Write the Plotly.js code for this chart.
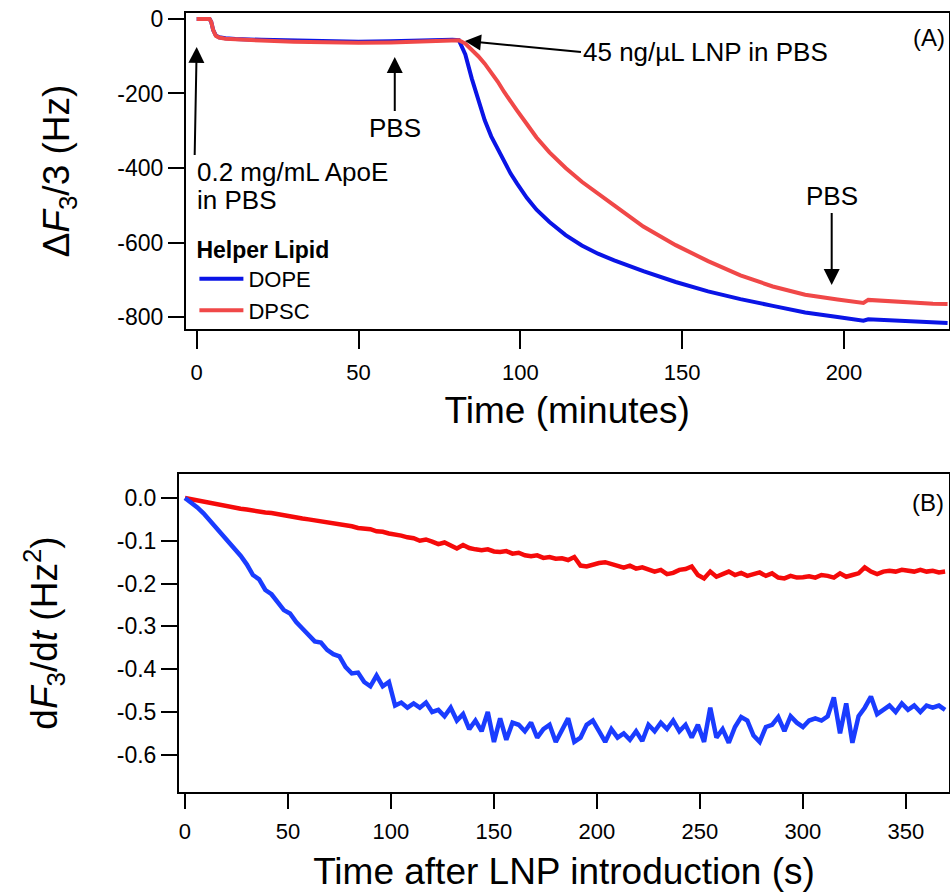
<!DOCTYPE html>
<html>
<head>
<meta charset="utf-8">
<script src="https://cdn.plot.ly/plotly-3.0.1.min.js"></script>
<style>html,body{margin:0;padding:0;background:#fff;}#chart{width:950px;height:892px;}</style>
</head>
<body>
<div id="chart"></div>
<script>
// ---- Panel A: frequency shift vs time (minutes) ----
const topTime = [0, 4, 4.5, 5.1, 5.9, 6.9, 8.9, 12, 20, 30, 40, 50, 60, 70, 79, 81, 83, 85, 87, 89, 91, 93, 95, 97, 99, 102, 105, 109, 114, 119, 124, 129, 138, 148, 158, 168, 178, 188, 198, 203, 206, 207.5, 212.5, 217.5, 222.5, 227.5, 232];
const topDOPE = [0, 0, -8, -30, -44, -49, -52, -54, -56, -58, -60, -61, -60, -57, -56, -57, -95, -160, -220, -272, -315, -350, -385, -415, -442, -480, -512, -545, -580, -608, -630, -648, -677, -706, -731, -752, -770, -788, -800, -806, -810, -806, -808, -810, -812, -814, -816];
const topDPSC = [0, 0, -8, -30, -45, -50, -53, -55, -58, -61, -63, -64, -63, -59, -57, -57, -66, -82, -100, -120, -142, -168, -196, -222, -246, -282, -318, -358, -400, -437, -470, -500, -557, -607, -650, -688, -718, -740, -753, -758, -762, -754, -757, -759, -762, -764, -765];

// ---- Panel B: dF3/dt vs time after LNP introduction (s) ----
const botTime = [0, 3, 6, 9, 12, 15, 18, 21, 24, 27, 30, 33, 36, 39, 42, 45, 48, 51, 54, 57, 60, 63, 66, 69, 72, 75, 78, 81, 84, 87, 90, 93, 96, 99, 102, 105, 108, 111, 114, 117, 120, 123, 126, 129, 132, 135, 138, 141, 144, 147, 150, 153, 156, 159, 162, 165, 168, 171, 174, 177, 180, 183, 186, 189, 192, 195, 198, 201, 204, 207, 210, 213, 216, 219, 222, 225, 228, 231, 234, 237, 240, 243, 246, 249, 252, 255, 258, 261, 264, 267, 270, 273, 276, 279, 282, 285, 288, 291, 294, 297, 300, 303, 306, 309, 312, 315, 318, 321, 324, 327, 330, 333, 336, 339, 342, 345, 348, 351, 354, 357, 360, 363, 366, 369];
const botDOPE = [0, -0.010, -0.022, -0.036, -0.052, -0.068, -0.086, -0.100, -0.118, -0.135,
  -0.155, -0.180, -0.190, -0.215, -0.225, -0.245, -0.262, -0.270, -0.290, -0.305,
  -0.320, -0.335, -0.338, -0.355, -0.365, -0.370, -0.395, -0.410, -0.408, -0.430,
  -0.440, -0.415, -0.440, -0.430, -0.485, -0.478, -0.490, -0.480, -0.490, -0.478,
  -0.500, -0.495, -0.510, -0.490, -0.520, -0.505, -0.540, -0.520, -0.545, -0.500,
  -0.570, -0.515, -0.565, -0.525, -0.530, -0.545, -0.525, -0.560, -0.540, -0.530,
  -0.570, -0.540, -0.515, -0.570, -0.560, -0.530, -0.520, -0.545, -0.570, -0.540,
  -0.560, -0.550, -0.565, -0.545, -0.568, -0.530, -0.545, -0.525, -0.540, -0.520,
  -0.545, -0.530, -0.560, -0.530, -0.570, -0.490, -0.560, -0.540, -0.572, -0.535,
  -0.512, -0.520, -0.555, -0.570, -0.535, -0.530, -0.512, -0.545, -0.510, -0.525,
  -0.535, -0.520, -0.515, -0.520, -0.510, -0.466, -0.550, -0.480, -0.572, -0.510,
  -0.490, -0.464, -0.505, -0.495, -0.485, -0.500, -0.480, -0.495, -0.485, -0.500,
  -0.485, -0.490, -0.485, -0.495];
const botDPSC = [0, -0.003, -0.006, -0.009, -0.012, -0.014, -0.017, -0.019, -0.022, -0.025,
  -0.027, -0.030, -0.032, -0.034, -0.035, -0.038, -0.040, -0.044, -0.045, -0.048,
  -0.050, -0.052, -0.055, -0.056, -0.060, -0.061, -0.064, -0.066, -0.070, -0.072,
  -0.073, -0.078, -0.079, -0.083, -0.085, -0.088, -0.092, -0.094, -0.100, -0.097,
  -0.102, -0.108, -0.104, -0.112, -0.118, -0.110, -0.117, -0.120, -0.122, -0.120,
  -0.125, -0.126, -0.124, -0.130, -0.128, -0.134, -0.136, -0.134, -0.140, -0.138,
  -0.142, -0.141, -0.145, -0.138, -0.158, -0.160, -0.155, -0.152, -0.150, -0.155,
  -0.160, -0.163, -0.158, -0.165, -0.162, -0.168, -0.172, -0.168, -0.178, -0.175,
  -0.168, -0.166, -0.160, -0.180, -0.188, -0.172, -0.184, -0.178, -0.172, -0.180,
  -0.175, -0.182, -0.178, -0.174, -0.182, -0.176, -0.186, -0.188, -0.182, -0.186,
  -0.185, -0.183, -0.186, -0.180, -0.182, -0.186, -0.176, -0.184, -0.180, -0.176,
  -0.162, -0.172, -0.178, -0.172, -0.170, -0.172, -0.168, -0.170, -0.172, -0.168,
  -0.172, -0.170, -0.174, -0.172];

// tick labels
const topXTicks = [0, 50, 100, 150, 200];
const topYTicks = [0, -200, -400, -600, -800];
const topYTickText = ['0', '-200', '-400', '-600', '-800'];
const botXTicks = [0, 50, 100, 150, 200, 250, 300, 350];
const botYTicks = [0, -0.1, -0.2, -0.3, -0.4, -0.5, -0.6];
const botYTickText = ['0.0', '-0.1', '-0.2', '-0.3', '-0.4', '-0.5', '-0.6'];
const seriesNames = ['DOPE', 'DPSC'];

const FONT = 'Liberation Sans, Arial, sans-serif';

const traces = [
  {x: topTime, y: topDOPE, name: seriesNames[0], type: 'scatter', mode: 'lines', xaxis: 'x', yaxis: 'y',
   line: {color: '#0a14e6', width: 4}, legendgroup: 'a'},
  {x: topTime, y: topDPSC, name: seriesNames[1], type: 'scatter', mode: 'lines', xaxis: 'x', yaxis: 'y',
   line: {color: '#f04848', width: 4}, legendgroup: 'b'},
  {x: botTime, y: botDPSC, name: seriesNames[1], type: 'scatter', mode: 'lines', xaxis: 'x2', yaxis: 'y2',
   line: {color: '#f50a0a', width: 4.5}, showlegend: false, legendgroup: 'b'},
  {x: botTime, y: botDOPE, name: seriesNames[0], type: 'scatter', mode: 'lines', xaxis: 'x2', yaxis: 'y2',
   line: {color: '#1a3cff', width: 4.5}, showlegend: false, legendgroup: 'a'}
];

const axisCommon = {
  showline: true, mirror: true, linecolor: '#000', linewidth: 2,
  ticks: 'outside', tickcolor: '#000', tickwidth: 2,
  showgrid: false, zeroline: false, automargin: false,
  tickfont: {family: FONT, size: 22, color: '#000'}
};
const yTickFont = {family: FONT, size: 23, color: '#000'};

const arrowCommon = {showarrow: true, arrowhead: 2, arrowsize: 1.6, arrowwidth: 2, arrowcolor: '#000',
  font: {family: FONT, size: 26, color: '#000'}};

const layout = {
  width: 950, height: 892,
  margin: {l: 179, r: 1, t: 13, b: 100},
  paper_bgcolor: '#fff', plot_bgcolor: '#fff',
  font: {family: FONT, color: '#000'},
  showlegend: true,
  legend: {
    x: 0.02, y: 0.724, xanchor: 'left', yanchor: 'top',
    bgcolor: 'rgba(0,0,0,0)', borderwidth: 0,
    font: {family: FONT, size: 22, color: '#000'},
    title: {text: '<b>Helper Lipid</b>', font: {family: FONT, size: 23, color: '#000'}},
    itemwidth: 44, tracegroupgap: 0
  },
  xaxis: Object.assign({}, axisCommon, {
    domain: [0.0091, 0.9994], range: [-3.3, 232.3], anchor: 'y',
    tickvals: topXTicks, ticktext: topXTicks.map(String), ticklen: 18, ticklabelstandoff: 5,
    title: {text: 'Time (minutes)', font: {family: FONT, size: 37, color: '#000'}, standoff: 13}
  }),
  yaxis: Object.assign({}, axisCommon, {
    domain: [0.5944, 1.0], range: [-832, 16], anchor: 'x', tickfont: yTickFont,
    tickvals: topYTicks, ticktext: topYTickText, ticklen: 16,
    title: {text: 'Δ<i>F</i><sub>3</sub>/3 (Hz)', font: {family: FONT, size: 37, color: '#000'}, standoff: 36}
  }),
  xaxis2: Object.assign({}, axisCommon, {
    domain: [0, 1], range: [-2.9, 370.9], anchor: 'y2',
    tickvals: botXTicks, ticktext: botXTicks.map(String), ticklen: 15, ticklabelstandoff: 4,
    title: {text: 'Time after LNP introduction (s)', font: {family: FONT, size: 37, color: '#000'}, standoff: 23}
  }),
  yaxis2: Object.assign({}, axisCommon, {
    domain: [0, 0.4082], range: [-0.687, 0.056], anchor: 'x2', tickfont: yTickFont,
    tickvals: botYTicks, ticktext: botYTickText, ticklen: 16,
    title: {text: 'd<i>F</i><sub>3</sub>/d<i>t</i> (Hz<sup>2</sup>)', font: {family: FONT, size: 37, color: '#000'}, standoff: 48}
  }),
  annotations: [
    Object.assign({}, arrowCommon, {xref: 'x', yref: 'y', x: 0, y: -75, ax: -2, ay: 108,
      xanchor: 'left', yanchor: 'top', align: 'left',
      text: '0.2 mg/mL ApoE'}),
    {xref: 'x', yref: 'y', x: -0.53, y: -486, xanchor: 'left', yanchor: 'middle', showarrow: false,
      text: 'in PBS', font: {family: FONT, size: 26, color: '#000'}},
    Object.assign({}, arrowCommon, {xref: 'x', yref: 'y', x: 61.2, y: -102, ax: 0, ay: 54,
      xanchor: 'center', yanchor: 'top', text: 'PBS'}),
    Object.assign({}, arrowCommon, {xref: 'x', yref: 'y', x: 82.9, y: -59, ax: 116, ay: 11,
      xanchor: 'left', yanchor: 'middle', text: '45 ng/µL LNP in PBS'}),
    Object.assign({}, arrowCommon, {xref: 'x', yref: 'y', x: 196.2, y: -714, ax: 0, ay: -72,
      xanchor: 'center', yanchor: 'bottom', text: 'PBS'}),
    {xref: 'paper', yref: 'paper', x: 0.998, y: 0.969, xanchor: 'right', yanchor: 'middle', showarrow: false,
      text: '(A)', font: {family: FONT, size: 24, color: '#000'}},
    {xref: 'paper', yref: 'paper', x: 0.9955, y: 0.371, xanchor: 'right', yanchor: 'middle', showarrow: false,
      text: '(B)', font: {family: FONT, size: 24, color: '#000'}}
  ]
};

Plotly.newPlot('chart', traces, layout, {staticPlot: true, displayModeBar: false});
</script>
</body>
</html>
